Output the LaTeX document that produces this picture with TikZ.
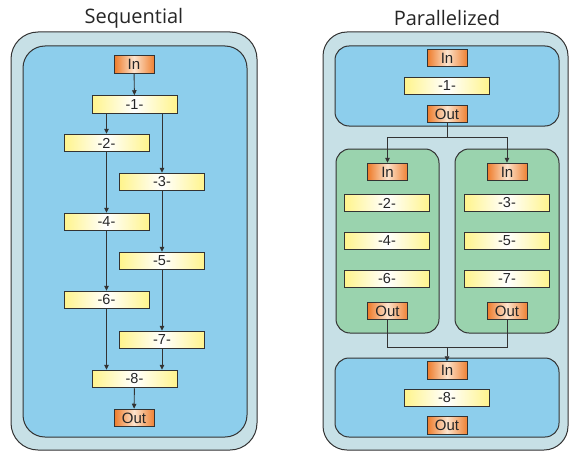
\documentclass[tikz,border=0pt]{standalone}
\usepackage{fontspec}
\setmainfont{Liberation Sans}
\newfontfamily\titlefont{Open Sans}
\usetikzlibrary{arrows.meta}
\definecolor{panel}{HTML}{C7E0E6}
\definecolor{pool}{HTML}{8DCEEC}
\definecolor{lane}{HTML}{9AD3AE}
\definecolor{edge}{HTML}{333333}
\definecolor{ora}{HTML}{EE7A28}
\definecolor{oralight}{HTML}{FCE3CC}
\definecolor{yel}{HTML}{FFF48C}
\tikzset{
  panelbox/.style={draw=edge, line width=1pt, fill=panel},
  poolbox/.style={draw=edge, line width=1pt, fill=pool},
  lanebox/.style={draw=edge, line width=1pt, fill=lane},
  task/.style={draw=edge, line width=1pt, minimum width=85pt, minimum height=17.5pt,
    inner sep=0pt, left color=yel, right color=yel, middle color=white,
    font=\fontsize{14.5}{14.5}\selectfont, text=black!85},
  port/.style={draw=edge, line width=1pt, minimum width=40pt, minimum height=17.5pt,
    inner sep=0pt, left color=ora, right color=ora!92!oralight, middle color=oralight,
    font=\fontsize{15}{15}\selectfont, text=black!85},
  flow/.style={draw=edge, line width=0.9pt, -{Triangle[length=5pt,width=4.5pt]}},
  wire/.style={draw=edge, line width=0.9pt},
  heading/.style={font=\titlefont\fontsize{20}{20}\selectfont, text=black!85}
}
\begin{document}
\begin{tikzpicture}[x=1pt,y=-1pt]
\useasboundingbox (0,0) rectangle (570,452);

% ---------- Sequential ----------
\node[heading] (tseq) at (134,18) {Sequential};
\draw[panelbox, rounded corners=27pt] (11,32) rectangle (257,450);
\draw[poolbox, rounded corners=22pt] (23,46) rectangle (247,437);

\node[port] (sin) at (134,64.5) {In};
\node[task] (s1) at (134.5,104.5) {-1-};
\node[task] (s2) at (106.5,143) {-2-};
\node[task] (s3) at (162,182) {-3-};
\node[task] (s4) at (106.5,222) {-4-};
\node[task] (s5) at (162,261) {-5-};
\node[task] (s6) at (106.5,300) {-6-};
\node[task] (s7) at (162,340) {-7-};
\node[task] (s8) at (134.5,379) {-8-};
\node[port] (sout) at (134,418) {Out};

\draw[flow] (sin) -- (s1);
\draw[flow] (s1.south -| s2) -- (s2);
\draw[flow] (s1.south -| s3) -- (s3);
\draw[flow] (s2) -- (s4);
\draw[flow] (s3) -- (s5);
\draw[flow] (s4) -- (s6);
\draw[flow] (s5) -- (s7);
\draw[flow] (s6) -- (s6 |- s8.north);
\draw[flow] (s7) -- (s7 |- s8.north);
\draw[flow] (s8) -- (sout);

% ---------- Parallelized ----------
\node[heading] (tpar) at (447,18) {Parallelized};
\draw[panelbox, rounded corners=24pt] (323,32) rectangle (568,450);
\draw[poolbox, rounded corners=14pt] (335,46) rectangle (559,126);
\draw[lanebox, rounded corners=14pt] (336,149) rectangle (439,333);
\draw[lanebox, rounded corners=14pt] (455,149) rectangle (559,333);
\draw[poolbox, rounded corners=14pt] (335,358) rectangle (559,437);

\node[port] (pin) at (447,58) {In};
\node[task] (p1) at (447,86) {-1-};
\node[port] (pout) at (447,114) {Out};

\node[port] (ain) at (387.5,172) {In};
\node[task] (p2) at (387,203) {-2-};
\node[task] (p4) at (387,241) {-4-};
\node[task] (p6) at (387,279) {-6-};
\node[port] (aout) at (387.5,311) {Out};

\node[port] (bin) at (507,172) {In};
\node[task] (p3) at (507,203) {-3-};
\node[task] (p5) at (507,241) {-5-};
\node[task] (p7) at (507,279) {-7-};
\node[port] (bout) at (507,311) {Out};

\node[port] (qin) at (447,370.5) {In};
\node[task] (p8) at (447,398) {-8-};
\node[port] (qout) at (447,425.5) {Out};

\coordinate (fork) at (447,137);
\coordinate (join) at (447,347);
\draw[wire] (pout) -- (fork);
\draw[flow] (fork) -| (ain);
\draw[flow] (fork) -| (bin);
\draw[wire] (aout) |- (join);
\draw[wire] (bout) |- (join);
\draw[flow] (join) -- (qin);
\end{tikzpicture}
\end{document}
